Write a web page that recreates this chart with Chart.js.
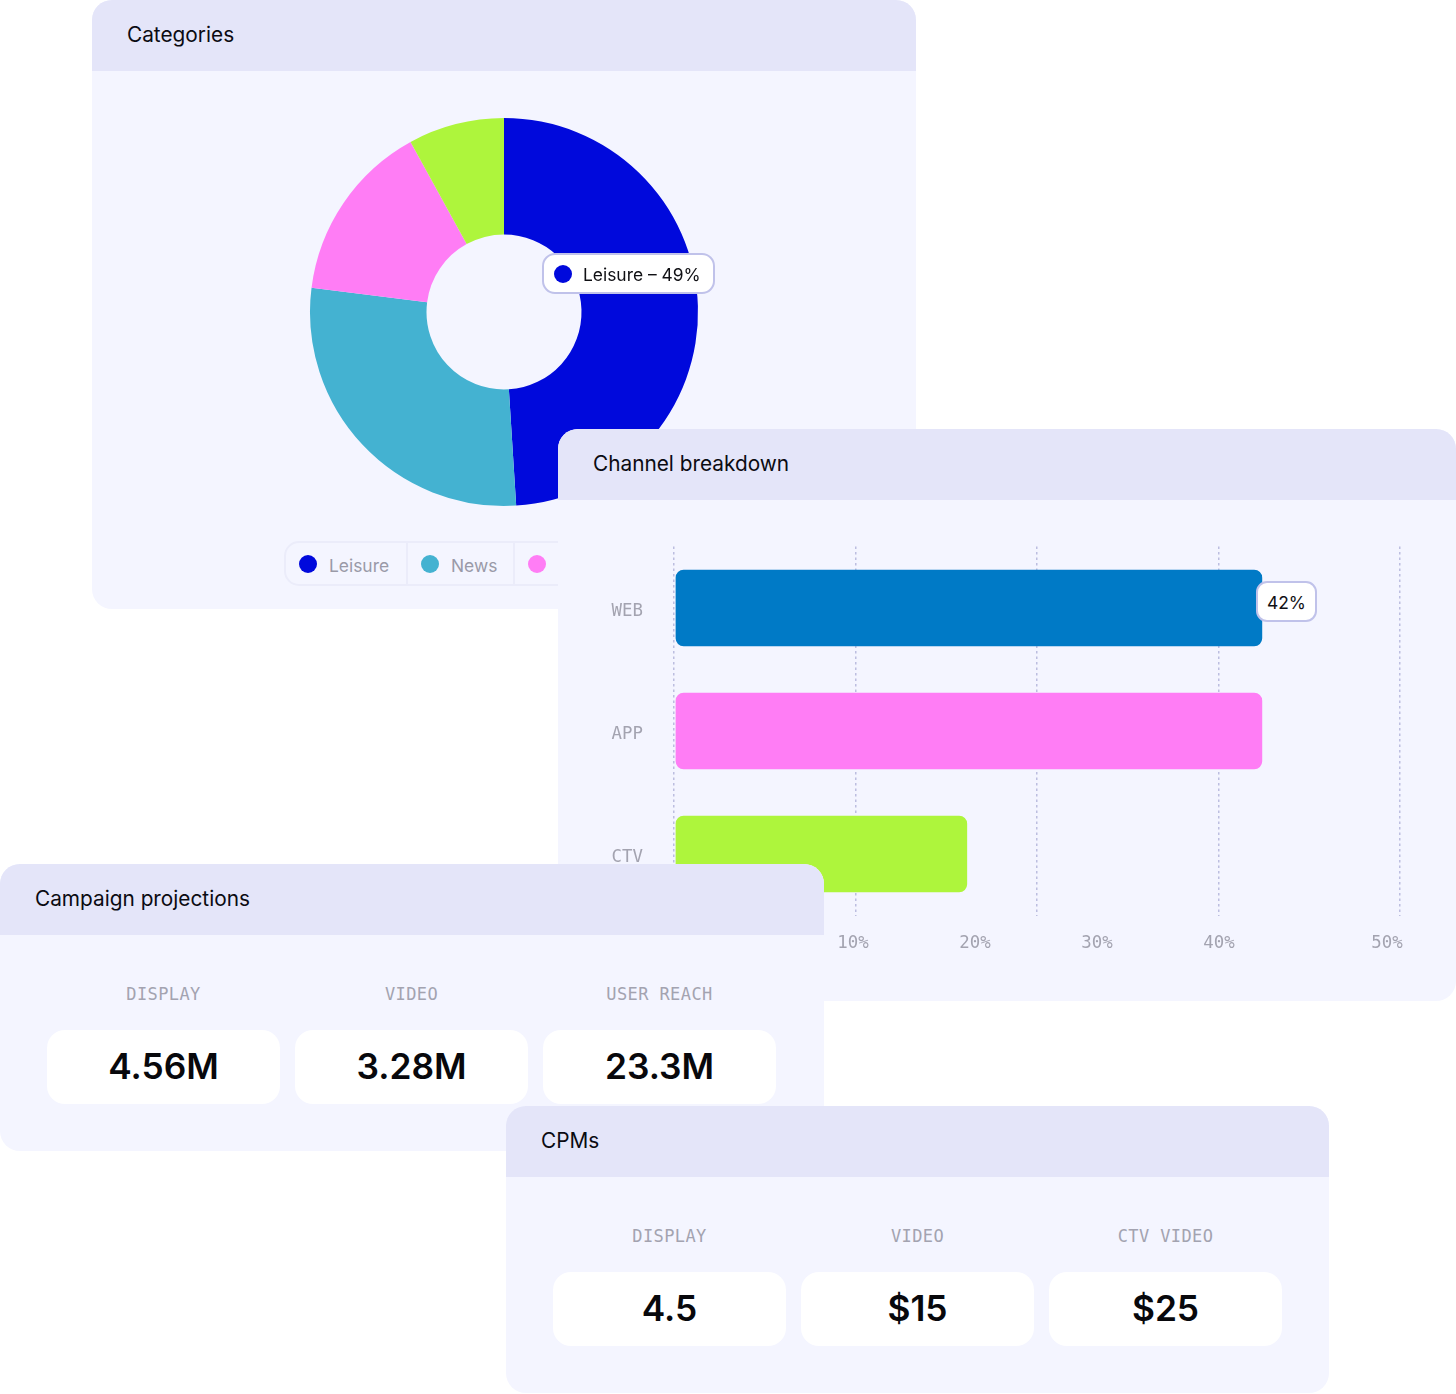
<!DOCTYPE html>
<html><head><meta charset="utf-8">
<script src="https://cdn.jsdelivr.net/npm/chart.js@4"></script>
<style>
html,body{margin:0;padding:0;background:#fff;width:1456px;height:1394px;overflow:hidden;font-family:Inter,sans-serif;color:#0b0b12}
.card{position:absolute;background:#f4f5ff;border-radius:20px;overflow:hidden}
.head{position:absolute;left:0;right:0;top:0;height:71px;background:#e4e5f9;font-size:20.8px;line-height:69px;padding-left:35px;font-weight:400}
canvas{position:absolute}
.lab{position:absolute;top:118px;width:233px;text-align:center;font:17px/24px "DejaVu Sans Mono",monospace;letter-spacing:.4px;color:#a3a3b0}
.val{position:absolute;top:166px;width:233px;height:74px;background:#fff;border-radius:18px;text-align:center;font-size:35.3px;line-height:74px;font-weight:600;color:#08080c}
.pill{position:absolute;background:#fff;border:2px solid #c0c2ea;box-sizing:border-box;border-radius:13px;font-size:17.4px;color:#101014;white-space:nowrap}
.legend{position:absolute;left:192px;top:541px;height:45px;width:560px;border:2px solid #ebecfa;box-sizing:border-box;border-radius:15px;display:flex}
.cell{height:100%;box-sizing:border-box;border-right:2px solid #ebecfa;position:relative;font-size:17.4px;line-height:45px;color:#9a9aa8}
.dot{position:absolute;width:18px;height:18px;border-radius:50%;top:12px;left:13px}
.cell span{position:absolute;left:43px}
</style></head><body>
<div id="root"></div>
<script>
const pieCategories = ["Leisure","News","",""];
const pieValues = [49,28,15,8];
const pieColors = ["#0009dc","#44b2d1","#ff7df5","#aef53c"];
const channelNames = ["WEB","APP","CTV"];
const channelValues = [42,42,20.85];
const channelColors = ["#007ac6","#ff7df5","#aef53c"];
const xTickLabels = ["10%","20%","30%","40%","50%"];
const xLabelPlaces = [10,20,30,40,53.77];
const campaignLabels = ["DISPLAY","VIDEO","USER REACH"];
const campaignValues = ["4.56M","3.28M","23.3M"];
const cpmLabels = ["DISPLAY","VIDEO","CTV VIDEO"];
const cpmValues = ["4.5","$15","$25"];

const root=document.getElementById('root');
function el(tag,cls,parent,css,text){const e=document.createElement(tag);if(cls)e.className=cls;if(css)e.style.cssText=css;if(text!==undefined)e.textContent=text;parent.appendChild(e);return e;}
function card(x,y,w,h,title){const c=el('div','card',root,`left:${x}px;top:${y}px;width:${w}px;height:${h}px`);el('div','head',c,'',title);return c;}

// Categories card
const c1=card(92,0,824,609,"Categories");
const cv1=el('canvas','',c1,'left:212px;top:112px');cv1.width=400;cv1.height=400;
const leg=el('div','legend',c1);
const cellW=[122,107,200];
[0,1,2].forEach(i=>{const cell=el('div','cell',leg,`width:${cellW[i]}px`);el('div','dot',cell,`background:${pieColors[i]}`);if(pieCategories[i])el('span','',cell,'',pieCategories[i]);});
const p1=el('div','pill',c1,'left:450px;top:253px;width:173px;height:41px;line-height:39px');
el('div','dot',p1,`background:${pieColors[0]};top:9.5px;left:10px`);
el('span','',p1,'position:absolute;left:39px',pieCategories[0]+" – "+pieValues[0]+"%");

new Chart(cv1,{type:'doughnut',data:{labels:pieCategories,datasets:[{data:pieValues,backgroundColor:pieColors,borderWidth:0}]},
options:{responsive:false,animation:false,cutout:77.5,radius:194,layout:{padding:6},plugins:{legend:{display:false},tooltip:{enabled:false}}}});

// Channel card
const c2=card(558,429,898,572,"Channel breakdown");
const cv2=el('canvas','',c2,'left:0;top:71px');cv2.width=898;cv2.height=501;
const monoTick={family:'"DejaVu Sans Mono",monospace',size:17.4};
new Chart(cv2,{type:'bar',data:{labels:channelNames,datasets:[{data:channelValues,backgroundColor:channelColors,barThickness:76,borderRadius:8,borderSkipped:false,xAxisID:'x',yAxisID:'y'}]},
options:{indexAxis:'y',responsive:false,animation:false,layout:{padding:{top:46.5,right:56,left:0,bottom:0}},
plugins:{legend:{display:false},tooltip:{enabled:false}},
scales:{
 x:{type:'linear',position:'bottom',min:-0.14,max:51.9,weight:0,
   afterBuildTicks:s=>{s.ticks=[0,1,2,3,4].map(i=>({value:s.min+i*(s.max-s.min)/4}));},
   afterFit:s=>{s.height=0;},
   ticks:{display:false},
   grid:{drawTicks:false,color:'#bcbee0',lineWidth:1.5},
   border:{display:false,dash:[2.5,3]}},
 x2:{type:'linear',position:'bottom',min:-4.67,max:54.84,weight:1,
   afterBuildTicks:s=>{s.ticks=xLabelPlaces.map(v=>({value:v}));},
   afterFit:s=>{s.height=85.5;},
   grid:{display:false},border:{display:false},
   ticks:{autoSkip:false,maxRotation:0,padding:10,color:'#a3a3b0',font:monoTick,callback:(v,i)=>xTickLabels[i]}},
 y:{type:'category',afterFit:s=>{s.width=116;},grid:{display:false},border:{display:false},
   ticks:{padding:23,color:'#a3a3b0',font:monoTick,labelOffset:3}}
}}});
el('div','pill',c2,'left:698px;top:152px;width:61px;height:41px;line-height:39px;text-align:center;border-radius:11px',Math.round(channelValues[0])+"%");

// Stat cards
function stats(c,labels,values,left){labels.forEach((t,i)=>{const x=left+i*248;el('div','lab',c,`left:${x}px`,t);el('div','val',c,`left:${x}px`,values[i]);});}
const c3=card(0,864,824,287,"Campaign projections");stats(c3,campaignLabels,campaignValues,47);
const c4=card(506,1106,823,287,"CPMs");stats(c4,cpmLabels,cpmValues,47);
</script>
</body></html>
